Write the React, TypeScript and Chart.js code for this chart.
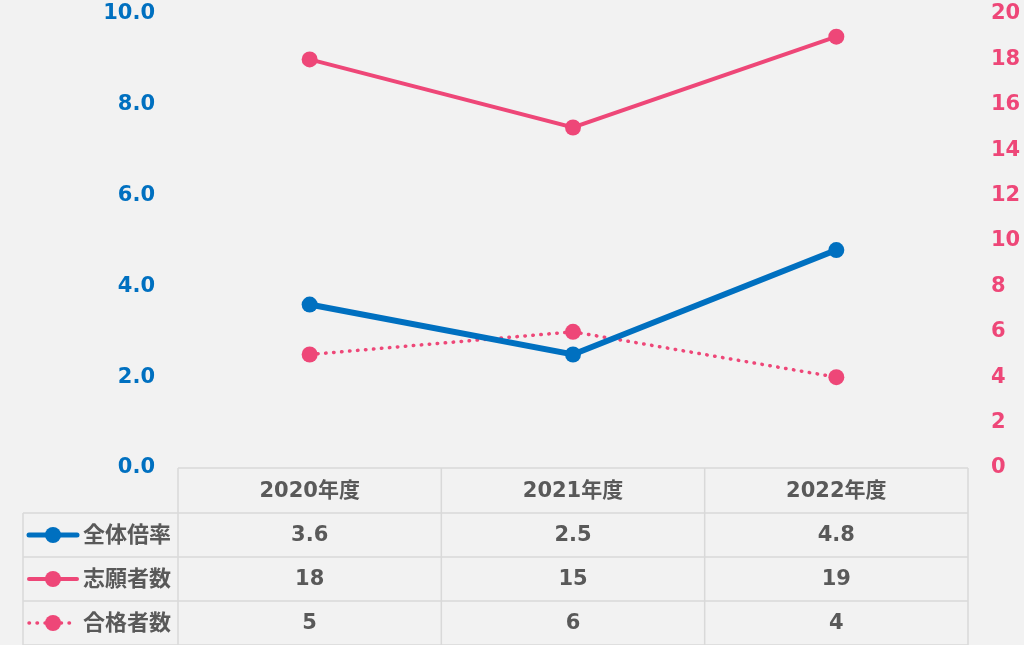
import React, { useEffect, useRef } from "react";
import { Chart, registerables } from "chart.js";

Chart.register(...registerables);

const categories = ["2020年度", "2021年度", "2022年度"];
const ratioValues = [3.6, 2.5, 4.8];
const applicantValues = [18, 15, 19];
const passedValues = [5, 6, 4];
const seriesNames = ["全体倍率", "志願者数", "合格者数"];
const leftTicks = [0, 2, 4, 6, 8, 10];
const rightTicks = [0, 2, 4, 6, 8, 10, 12, 14, 16, 18, 20];

const BLUE = "#0070C0";
const PINK = "#EE4778";
const TEXT = "#595959";
const GRID = "#D9D9D9";
const BG = "#F2F2F2";
const FONT = '"DejaVu Sans", "Noto Sans CJK JP", sans-serif';

const tablePlugin = {
  id: "dataTable",
  afterDraw(chart: any) {
    const ctx = chart.ctx;
    const area = chart.chartArea;
    const xs = chart.scales.x;
    const rowH = [45, 44, 44, 44];
    const left = 23;
    const top = area.bottom;
    const n = categories.length;
    const colW = (area.right - area.left) / n;
    ctx.save();
    ctx.strokeStyle = GRID;
    ctx.lineWidth = 1.5;
    const y1 = top + rowH[0];
    const bottom = y1 + rowH[1] + rowH[2] + rowH[3];
    ctx.beginPath();
    ctx.moveTo(area.left, top);
    ctx.lineTo(area.right, top);
    for (let i = 0; i <= n; i++) {
      const x = area.left + i * colW;
      ctx.moveTo(x, top);
      ctx.lineTo(x, bottom);
    }
    ctx.moveTo(left, y1);
    ctx.lineTo(left, bottom);
    let y = y1;
    for (let r = 0; r < 4; r++) {
      ctx.moveTo(left, y);
      ctx.lineTo(area.right, y);
      if (r < 3) y += rowH[r + 1];
    }
    ctx.stroke();

    ctx.fillStyle = TEXT;
    ctx.font = "bold 21px " + FONT;
    ctx.textAlign = "center";
    ctx.textBaseline = "middle";
    for (let i = 0; i < n; i++) {
      const cx = xs.getPixelForValue(i);
      ctx.fillText(categories[i], cx, top + rowH[0] / 2 + 1);
    }
    const rows = [
      { name: seriesNames[0], vals: ratioValues.map((v) => v.toFixed(1)), color: BLUE, dash: false, w: 5, r: 8 },
      { name: seriesNames[1], vals: applicantValues.map(String), color: PINK, dash: false, w: 4, r: 8 },
      { name: seriesNames[2], vals: passedValues.map(String), color: PINK, dash: true, w: 3.5, r: 8 },
    ];
    let ry = y1;
    rows.forEach((row, k) => {
      const h = rowH[k + 1];
      const cy = ry + h / 2;
      ctx.save();
      ctx.strokeStyle = row.color;
      ctx.lineWidth = row.w;
      ctx.lineCap = "round";
      if (row.dash) ctx.setLineDash([0.5, 7.5]);
      ctx.beginPath();
      ctx.moveTo(29, cy);
      ctx.lineTo(77, cy);
      ctx.stroke();
      ctx.setLineDash([]);
      ctx.fillStyle = row.color;
      ctx.beginPath();
      ctx.arc(53, cy, row.r, 0, Math.PI * 2);
      ctx.fill();
      ctx.restore();
      ctx.fillStyle = TEXT;
      ctx.textAlign = "left";
      ctx.font = "bold 22px " + FONT;
      ctx.fillText(row.name, 83, cy + 1);
      ctx.font = "bold 21px " + FONT;
      ctx.textAlign = "center";
      for (let i = 0; i < n; i++) {
        ctx.fillText(row.vals[i], xs.getPixelForValue(i), cy + 1);
      }
      ry += h;
    });
    ctx.restore();
  },
};

export default function App() {
  const ref = useRef<HTMLCanvasElement | null>(null);
  useEffect(() => {
    document.body.style.margin = "0";
    const chart = new Chart(ref.current as HTMLCanvasElement, {
      type: "line",
      data: {
        labels: categories,
        datasets: [
          {
            label: seriesNames[0],
            data: ratioValues,
            yAxisID: "y",
            borderColor: BLUE,
            backgroundColor: BLUE,
            borderWidth: 6,
            pointRadius: 8,
            pointHoverRadius: 8,
            pointBorderWidth: 0,
            tension: 0,
          },
          {
            label: seriesNames[1],
            data: applicantValues,
            yAxisID: "y1",
            borderColor: PINK,
            backgroundColor: PINK,
            borderWidth: 4,
            pointRadius: 8,
            pointHoverRadius: 8,
            pointBorderWidth: 0,
            tension: 0,
          },
          {
            label: seriesNames[2],
            data: passedValues,
            yAxisID: "y1",
            borderColor: PINK,
            backgroundColor: PINK,
            borderWidth: 3.5,
            borderDash: [0.5, 7.5],
            borderCapStyle: "round",
            pointRadius: 8,
            pointHoverRadius: 8,
            pointBorderWidth: 0,
            tension: 0,
          },
        ],
      },
      options: {
        animation: false,
        responsive: false,
        maintainAspectRatio: false,
        layout: { padding: { left: 0, right: 0, top: 14, bottom: 177 } },
        plugins: { legend: { display: false }, tooltip: { enabled: false } },
        scales: {
          x: {
            display: false,
            offset: true,
            grid: { display: false },
          },
          y: {
            position: "left",
            min: 0,
            max: 10,
            afterFit: (s: any) => {
              s.width = 178;
              s.paddingTop = 0;
              s.paddingBottom = 0;
            },
            afterBuildTicks: (s: any) => {
              s.ticks = leftTicks.map((v) => ({ value: v }));
            },
            grid: { display: false, drawTicks: false },
            border: { display: false },
            ticks: {
              color: BLUE,
              padding: 23,
              font: { family: FONT, size: 21, weight: "bold" },
              callback: (v: any) => Number(v).toFixed(1),
            },
          },
          y1: {
            position: "right",
            min: 0,
            max: 20,
            afterFit: (s: any) => {
              s.width = 56;
              s.paddingTop = 0;
              s.paddingBottom = 0;
            },
            afterBuildTicks: (s: any) => {
              s.ticks = rightTicks.map((v) => ({ value: v }));
            },
            grid: { display: false, drawTicks: false },
            border: { display: false },
            ticks: {
              color: PINK,
              padding: 23,
              font: { family: FONT, size: 21, weight: "bold" },
              callback: (v: any) => String(v),
            },
          },
        },
      },
      plugins: [tablePlugin],
    } as any);
    return () => chart.destroy();
  }, []);
  return (
    <div style={{ position: "absolute", left: 0, top: 0, width: 1024, height: 645, background: BG }}>
      <canvas ref={ref} width={1024} height={645} style={{ display: "block", width: 1024, height: 645 }} />
    </div>
  );
}
